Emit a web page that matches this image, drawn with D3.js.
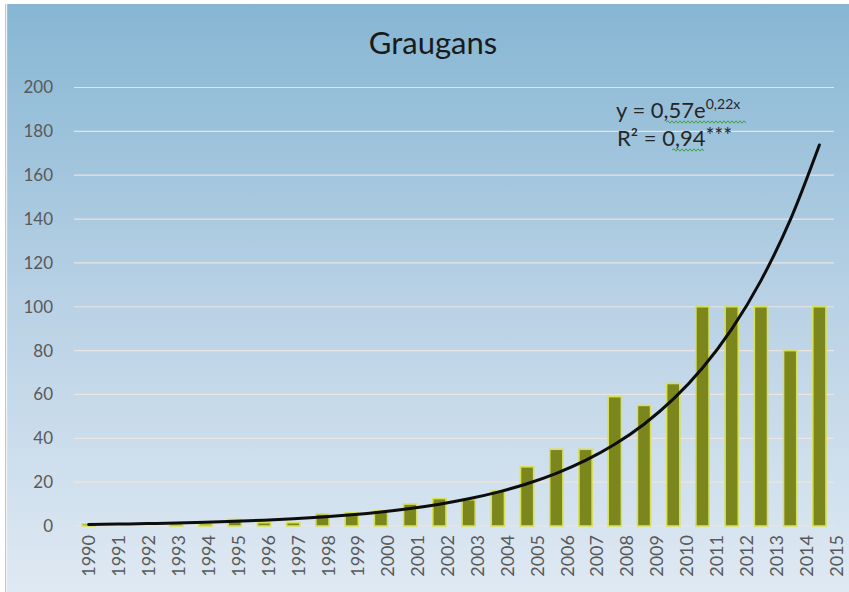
<!DOCTYPE html>
<html>
<head>
<meta charset="utf-8">
<script src="https://cdn.jsdelivr.net/npm/d3@7"></script>
<style>
  html, body { margin: 0; padding: 0; background: #ffffff; }
  svg { display: block; }
  text { font-family: Lato, "Open Sans", sans-serif; }
</style>
</head>
<body>
<svg id="chart" width="849" height="592"></svg>
<script>
// ---- data ----
const title = "Graugans";
const years = ["1990","1991","1992","1993","1994","1995","1996","1997","1998","1999",
               "2000","2001","2002","2003","2004","2005","2006","2007","2008","2009",
               "2010","2011","2012","2013","2014","2015"];
const values = [1, 0, 0, 1, 1, 3, 1.5, 1.5, 5.5, 6,
                7, 10, 12.5, 12, 16, 27, 35, 35, 59, 55,
                65, 100, 100, 100, 80, 100];
const yTicks = [0, 20, 40, 60, 80, 100, 120, 140, 160, 180, 200];
// trendline shown in the chart: y = 0,57 e^(0,22 x), x = 1..26
const trendA = 0.57;
const trendB = 0.22;
const eqMain = "y = 0,57e";
const eqSup = "0,22x";
const r2Text = "R² = 0,94";
const r2Stars = "***";

// ---- layout ----
const svg = d3.select("#chart");
const W = 849, H = 592;
const plotLeft = 74, plotRight = 834, plotTop = 87.5, plotBottom = 526;

const defs = svg.append("defs");
const grad = defs.append("linearGradient").attr("id", "bg")
  .attr("x1", 0).attr("y1", 0).attr("x2", 0).attr("y2", 1);
grad.append("stop").attr("offset", "0%").attr("stop-color", "#86b6d3");
grad.append("stop").attr("offset", "50%").attr("stop-color", "#b8d1e5");
grad.append("stop").attr("offset", "100%").attr("stop-color", "#dfe9f3");

svg.append("rect").attr("x", 0).attr("y", 0).attr("width", W).attr("height", H).attr("fill", "#ffffff");
svg.append("rect").attr("x", 7).attr("y", 4).attr("width", W - 7).attr("height", H - 4).attr("fill", "url(#bg)");
svg.append("rect").attr("x", 5).attr("y", 4).attr("width", 1.2).attr("height", H - 4).attr("fill", "#c4c8cc");
svg.append("rect").attr("x", 6.2).attr("y", 4).attr("width", 1).attr("height", H - 4).attr("fill", "#eef2f5");

// scales
const x = d3.scaleBand().domain(years).range([plotLeft, plotRight])
  .paddingInner(0.55).paddingOuter(0.275);
const xLabels = d3.scaleBand().domain(years).range([plotLeft, 851]);
const y = d3.scaleLinear().domain([0, 200]).range([plotBottom, plotTop]);

// gridlines
svg.append("g").selectAll("line").data(yTicks).join("line")
  .attr("x1", plotLeft).attr("x2", plotRight)
  .attr("y1", d => y(d)).attr("y2", d => y(d))
  .attr("stroke", "#eee7e0").attr("stroke-opacity", 0.9).attr("stroke-width", 1.2);

// y axis labels
const yAxis = d3.axisLeft(y).tickValues(yTicks).tickSize(0).tickPadding(0);
const gy = svg.append("g").attr("transform", `translate(53,0)`).call(yAxis);
gy.select(".domain").remove();
gy.selectAll("text").attr("font-size", 17).attr("fill", "#595959")
  .attr("font-family", "Lato, sans-serif");

// x axis labels
const xAxis = d3.axisBottom(xLabels).tickSize(0).tickPadding(0);
const gx = svg.append("g").attr("transform", `translate(0,535)`).call(xAxis);
gx.select(".domain").remove();
gx.selectAll("text")
  .attr("font-size", 18).attr("fill", "#595959").attr("font-family", "Lato, sans-serif")
  .attr("transform", "rotate(-90)")
  .attr("text-anchor", "end")
  .attr("x", 0).attr("y", 0).attr("dy", "0.36em");

// bars
svg.append("g").selectAll("rect").data(values).join("rect")
  .attr("x", (d, i) => x(years[i]))
  .attr("width", x.bandwidth())
  .attr("y", d => y(d))
  .attr("height", d => y(0) - y(d))
  .attr("fill", "#7b861c")
  .attr("stroke", "#d6e05a")
  .attr("stroke-width", 1.6);

// trendline
const trend = years.map((yr, i) => ({ yr, v: trendA * Math.exp(trendB * (i + 1)) }));
const line = d3.line().x(d => x(d.yr) + x.bandwidth() / 2).y(d => y(d.v)).curve(d3.curveMonotoneX);
svg.append("path").datum(trend).attr("d", line)
  .attr("fill", "none").attr("stroke", "#0d0d0d").attr("stroke-width", 3)
  .attr("stroke-linejoin", "round").attr("stroke-linecap", "round");

// title
svg.append("text").attr("x", 433).attr("y", 54).attr("text-anchor", "middle")
  .attr("font-size", 31).attr("fill", "#1a1a1a").text(title);

// equation
const eq = svg.append("text").attr("x", 616).attr("y", 118).attr("font-size", 22).attr("fill", "#262626");
eq.append("tspan").text(eqMain);
eq.append("tspan").attr("font-size", 14).attr("dy", -9).text(eqSup);
const r2 = svg.append("text").attr("x", 617).attr("y", 146).attr("font-size", 22).attr("fill", "#262626");
r2.append("tspan").text(r2Text);
r2.append("tspan").attr("dy", -3).attr("font-size", 21).text(r2Stars);

// spell-check style wavy underlines
function wave(x0, x1, yy) {
  let p = `M${x0},${yy}`;
  let up = true;
  for (let xx = x0 + 2; xx <= x1; xx += 2) { p += `L${xx},${yy + (up ? -1.2 : 1.2)}`; up = !up; }
  return p;
}
svg.append("path").attr("d", wave(666, 746, 122)).attr("fill", "none").attr("stroke", "#3aa43a").attr("stroke-width", 1);
svg.append("path").attr("d", wave(672, 705, 150)).attr("fill", "none").attr("stroke", "#3aa43a").attr("stroke-width", 1);
</script>
</body>
</html>
